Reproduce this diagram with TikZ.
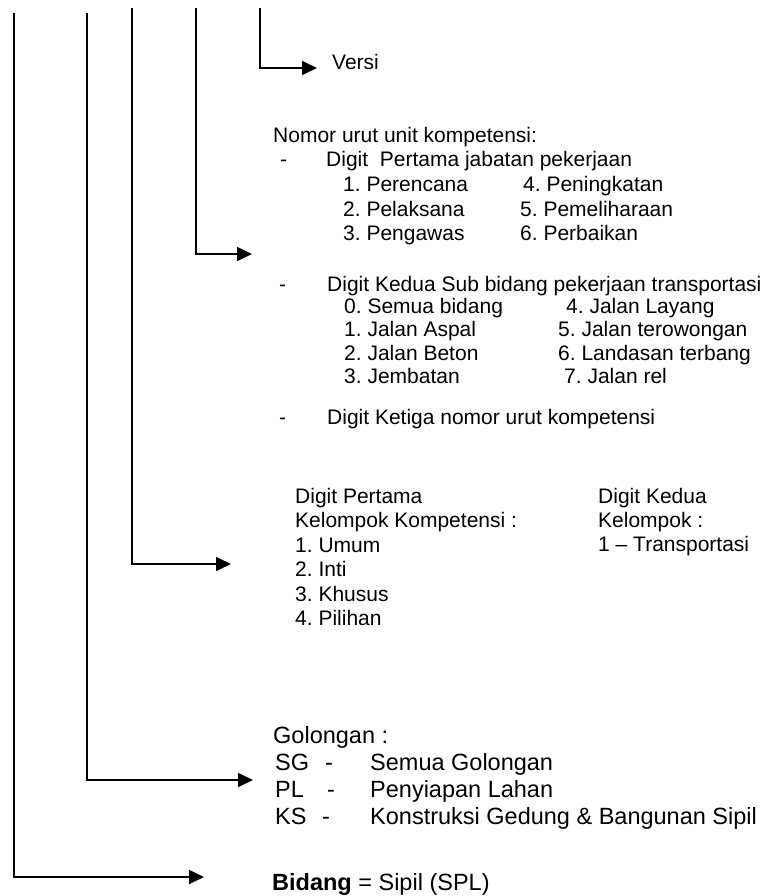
\documentclass[tikz,border=0pt]{standalone}
\usepackage{fontspec}
\setmainfont{Liberation Sans}
\usetikzlibrary{arrows.meta}
\frenchspacing
\begin{document}
\begin{tikzpicture}[x=1pt,y=-1pt,
  conn/.style={line width=1.7pt},
  arr/.style={conn,-{Triangle[length=15pt,width=14pt]}},
  txt/.style={anchor=base west,inner sep=0pt,font=\fontsize{21}{24}\selectfont},
  big/.style={anchor=base west,inner sep=0pt,font=\fontsize{23.5}{27}\selectfont}]
\useasboundingbox (0,0) rectangle (768,896);
% connector ends
\coordinate (v1) at (14,13);
\coordinate (v2) at (87,13);
\coordinate (v3) at (132,8);
\coordinate (v4) at (196,8);
\coordinate (v5) at (260,8);
\coordinate (t1) at (204,877);
\coordinate (t2) at (253,780);
\coordinate (t3) at (231,564);
\coordinate (t4) at (252,254);
\coordinate (t5) at (317,68);
% texts
\node[txt] (versi) at (332,70) {Versi};
\node[txt] (nomor) at (273,143) {Nomor urut unit kompetensi:};
\node[txt] (d1a) at (280,167) {-};
\node[txt] (d1) at (326,167) {Digit\ \ Pertama jabatan pekerjaan};
\node[txt] (p1) at (343,192) {1. Perencana};
\node[txt] (p4) at (523,192) {4. Peningkatan};
\node[txt] (p2) at (343,216) {2. Pelaksana};
\node[txt] (p5) at (520,216) {5. Pemeliharaan};
\node[txt] (p3) at (343,240) {3. Pengawas};
\node[txt] (p6) at (520,240) {6. Perbaikan};
\node[txt] (d2a) at (279,291) {-};
\node[txt] (d2) at (327,291) {Digit Kedua Sub bidang pekerjaan transportasi};
\node[txt] (s0) at (344,313) {0. Semua bidang};
\node[txt] (s4) at (566,313) {4. Jalan Layang};
\node[txt] (s1) at (344,336) {1. Jalan Aspal};
\node[txt] (s5) at (558,336) {5. Jalan terowongan};
\node[txt] (s2) at (344,360) {2. Jalan Beton};
\node[txt] (s6) at (558,360) {6. Landasan terbang};
\node[txt] (s3) at (344,383) {3. Jembatan};
\node[txt] (s7) at (564,383) {7. Jalan rel};
\node[txt] (d3a) at (279,424) {-};
\node[txt] (d3) at (327,424) {Digit Ketiga nomor urut kompetensi};
\node[txt] (k1) at (295,503) {Digit Pertama};
\node[txt] (k2) at (295,527) {Kelompok Kompetensi :};
\node[txt] (k3) at (295,552) {1. Umum};
\node[txt] (k4) at (295,576) {2. Inti};
\node[txt] (k5) at (295,601) {3. Khusus};
\node[txt] (k6) at (295,625) {4. Pilihan};
\node[txt] (g1) at (598,503) {Digit Kedua};
\node[txt] (g2) at (598,527) {Kelompok :};
\node[txt] (g3) at (598,551) {1 – Transportasi};
\node[big] (gol) at (273,743) {Golongan :};
\node[big] (sg) at (275,770) {SG};
\node[big] (sgd) at (325,770) {-};
\node[big] (sgt) at (370,770) {Semua Golongan};
\node[big] (pl) at (275,797) {PL};
\node[big] (pld) at (327,797) {-};
\node[big] (plt) at (370,797) {Penyiapan Lahan};
\node[big] (ks) at (275,824) {KS};
\node[big] (ksd) at (322,824) {-};
\node[big] (kst) at (370,824) {Konstruksi Gedung \& Bangunan Sipil};
\node[big] (bid) at (272,890) {\textbf{Bidang} = Sipil (SPL)};
% connectors
\draw[arr] (v1) |- (t1);
\draw[arr] (v2) |- (t2);
\draw[arr] (v3) |- (t3);
\draw[arr] (v4) |- (t4);
\draw[arr] (v5) |- (t5);
\end{tikzpicture}
\end{document}
